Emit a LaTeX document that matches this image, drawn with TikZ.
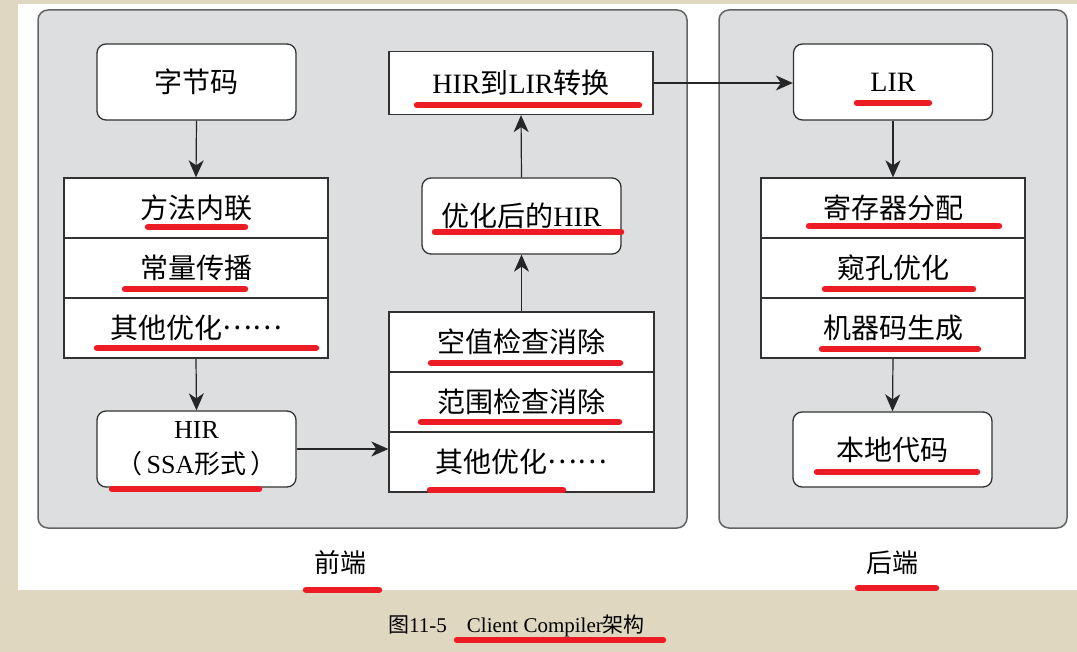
\documentclass[tikz,border=0pt]{standalone}
\usepackage{fontspec}
\setmainfont{Liberation Serif}
\newfontfamily\cjk{Noto Sans CJK SC}
\usetikzlibrary{arrows.meta}
\definecolor{beige}{RGB}{223,215,192}
\definecolor{panelfill}{RGB}{220,222,223}
\definecolor{paneldraw}{RGB}{100,100,100}
\definecolor{boxdraw}{RGB}{50,50,50}
\definecolor{mark}{RGB}{237,28,36}
\newcommand{\mydots}{\raisebox{.33em}{……}}
\begin{document}
\begin{tikzpicture}[x=1pt,y=-1pt,
  panel/.style={draw=paneldraw,fill=panelfill,line width=1.5pt,rounded corners=10pt},
  rbox/.style={draw=boxdraw,fill=white,line width=1.3pt,rounded corners=9pt,minimum width=199pt,minimum height=76pt,inner sep=0pt,font=\fontsize{28}{32}\selectfont},
  sbox/.style={draw=boxdraw,fill=white,line width=1.3pt,minimum width=264pt,minimum height=60pt,inner sep=0pt,font=\fontsize{28}{32}\selectfont},
  lbl/.style={font=\fontsize{26}{30}\selectfont\cjk,inner sep=0pt},
  arr/.style={draw=black!85,line width=1.2pt,-{Stealth[length=17pt,width=15pt,inset=5pt]}},
  redline/.style={draw=mark,line width=6.5pt,line cap=round}]
\fill[beige] (0,0) rectangle (1077,652);
\fill[white] (18,4) rectangle (1077,590);
\useasboundingbox (0,0) rectangle (1077,652);
% panels
\draw[panel] (38,10) rectangle (687,528);
\draw[panel] (719,10) rectangle (1067,528);
% front end left column
\node[rbox] (zjm) at (196.5,82) {\cjk 字节码};
\node[sbox] (s1a) at (196,208) {\cjk 方法内联};
\node[sbox] (s1b) at (196,268) {\cjk 常量传播};
\node[sbox] (s1c) at (196,328) {\cjk 其他优化\mydots};
\node[rbox,align=center,font=\fontsize{26}{35}\selectfont] (hir) at (196.5,449) {HIR\\{\cjk （}\hspace{4pt}SSA{\cjk 形式}\hspace{4pt}{\cjk ）}};
% front end middle column
\node[sbox,minimum width=265pt] (s2a) at (521.5,342) {\cjk 空值检查消除};
\node[sbox,minimum width=265pt] (s2b) at (521.5,402) {\cjk 范围检查消除};
\node[sbox,minimum width=265pt] (s2c) at (521.5,462) {\cjk 其他优化\mydots};
\node[rbox] (opt) at (521.5,216) {{\cjk 优化后的}HIR};
\node[sbox,minimum height=63pt] (h2l) at (521,83) {HIR{\cjk 到}LIR{\cjk 转换}};
% back end
\node[rbox] (lir) at (893,82) {LIR};
\node[sbox] (r1) at (893,208) {\cjk 寄存器分配};
\node[sbox] (r2) at (893,268) {\cjk 窥孔优化};
\node[sbox] (r3) at (893,328) {\cjk 机器码生成};
\node[rbox,minimum height=75pt] (nat) at (892.5,449.5) {\cjk 本地代码};
% labels
\node[lbl] (fe) at (340,563) {前端};
\node[lbl] (be) at (892,563) {后端};
\node[anchor=west,inner sep=0pt,font=\fontsize{21}{25}\selectfont] (cap) at (388,626) {{\cjk 图}11-5\hspace{20pt}Client Compiler{\cjk 架构}};
% arrows
\draw[arr] (zjm.south) -- (s1a.north);
\draw[arr] (s1c.south) -- (hir.north);
\draw[arr] (hir.east) -- (hir.east -| s2c.west);
\draw[arr] (s2a.north) -- (opt.south);
\draw[arr] (opt.north) -- (h2l.south);
\draw[arr] (h2l.east) -- (h2l.east -| lir.west);
\draw[arr] (lir.south) -- (r1.north);
\draw[arr] (r3.south) -- (nat.north);
% red underlines
\draw[redline] (148,227) -- (245,227);
\draw[redline] (125,289) -- (245,289);
\draw[redline] (97,348) -- (316,348);
\draw[redline] (112,489) -- (259,489);
\draw[redline] (417,105) -- (639,105);
\draw[redline] (435,232) -- (621,232);
\draw[redline] (431,363) -- (620,363);
\draw[redline] (421,422) -- (619,422);
\draw[redline] (430,490) -- (563,490);
\draw[redline] (857,103) -- (929,103);
\draw[redline] (809,226) -- (999,226);
\draw[redline] (825,289) -- (973,289);
\draw[redline] (822,349) -- (978,349);
\draw[redline] (817,472) -- (977,472);
\draw[redline] (306,590) -- (379,590);
\draw[redline] (858,588) -- (936,588);
\draw[redline] (457,640) -- (663,640);
\end{tikzpicture}
\end{document}
